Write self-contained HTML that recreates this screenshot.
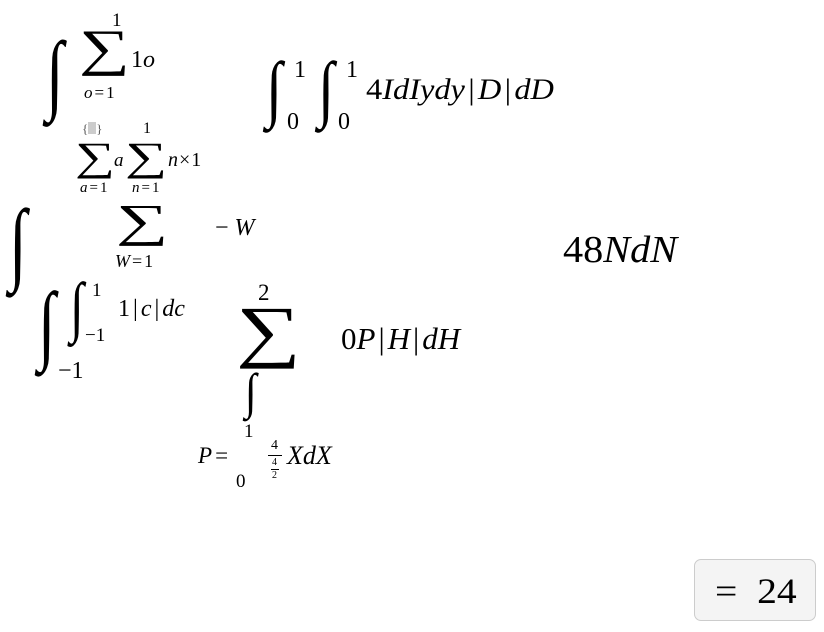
<!DOCTYPE html>
<html><head><meta charset="utf-8"><style>
body{margin:0;width:824px;height:632px;background:#fff;position:relative;overflow:hidden;font-family:"Liberation Serif",serif;color:#000}
.t{position:absolute;line-height:1;white-space:nowrap;transform-origin:0 0}
.i{font-style:italic}
.b{font-style:normal;margin:0 3px}
.e{margin:0 2px;font-style:normal}
</style></head><body>
<div>
<span class="t" style="left:112px;top:11px;font-size:19px">1</span>
<span class="t" style="left:46px;top:30px;font-size:89px;transform:scaleX(0.72)">∫</span>
<span class="t" style="left:79px;top:24px;font-size:51px;transform:scaleX(1.4)">∑</span>
<span class="t" style="left:131px;top:48px;font-size:24px">1<i>o</i></span>
<span class="t" style="left:84px;top:84px;font-size:17px"><i>o</i><span class="e">=</span>1</span>

<span class="t" style="left:266px;top:52px;font-size:74px;transform:scaleX(0.8)">∫</span>
<span class="t" style="left:294px;top:58px;font-size:24px">1</span>
<span class="t" style="left:287px;top:110px;font-size:24px">0</span>
<span class="t" style="left:318px;top:52px;font-size:74px;transform:scaleX(0.8)">∫</span>
<span class="t" style="left:346px;top:58px;font-size:24px">1</span>
<span class="t" style="left:338px;top:110px;font-size:24px">0</span>
<span class="t i" style="left:366px;top:75px;font-size:30px;transform:scaleX(1.08)"><span style="font-style:normal">4</span>IdIydy<span class="b">|</span>D<span class="b">|</span>dD</span>

<span class="t" style="left:82px;top:122px;font-size:13px;color:#555">{<span style="display:inline-block;width:8px;height:12px;background:#ccc;vertical-align:-1px"></span>}</span>
<span class="t" style="left:143px;top:121px;font-size:16px">1</span>
<span class="t" style="left:75px;top:137px;font-size:40px;transform:scaleX(1.4)">∑</span>
<span class="t i" style="left:114px;top:151px;font-size:19px">a</span>
<span class="t" style="left:125px;top:137px;font-size:40px;transform:scaleX(1.48)">∑</span>
<span class="t" style="left:168px;top:150px;font-size:20px"><i>n</i><span style="margin:0 1px">×</span>1</span>
<span class="t" style="left:80px;top:181px;font-size:15px"><i>a</i><span class="e">=</span>1</span>
<span class="t" style="left:132px;top:181px;font-size:15px"><i>n</i><span class="e">=</span>1</span>

<span class="t" style="left:9px;top:196px;font-size:92px;transform:scaleX(0.7)">∫</span>
<span class="t" style="left:116px;top:198px;font-size:46px;transform:scaleX(1.6)">∑</span>
<span class="t" style="left:115px;top:252px;font-size:18px"><i>W</i><span class="e">=</span>1</span>
<span class="t" style="left:215px;top:216px;font-size:24px">− <i>W</i></span>

<span class="t" style="left:563px;top:231px;font-size:38px;transform:scaleX(1.06)">48<i>NdN</i></span>

<span class="t" style="left:38px;top:281px;font-size:88px;transform:scaleX(0.72)">∫</span>
<span class="t" style="left:58px;top:359px;font-size:24px">−1</span>
<span class="t" style="left:70px;top:274px;font-size:67px;transform:scaleX(0.75)">∫</span>
<span class="t" style="left:92px;top:281px;font-size:19px">1</span>
<span class="t" style="left:85px;top:326px;font-size:19px">−1</span>
<span class="t" style="left:118px;top:297px;font-size:24px">1<span class="b">|</span><i>c</i><span class="b">|</span><i>dc</i></span>

<span class="t" style="left:258px;top:281px;font-size:23px">2</span>
<span class="t" style="left:236px;top:297px;font-size:69px;transform:scaleX(1.32)">∑</span>
<span class="t" style="left:245px;top:366px;font-size:50px;transform:scaleX(0.85)">∫</span>
<span class="t" style="left:244px;top:422px;font-size:19px">1</span>
<span class="t" style="left:198px;top:444px;font-size:23px"><i>P</i><span style="margin-left:3px">=</span></span>
<span class="t" style="left:236px;top:472px;font-size:19px">0</span>
<span class="t" style="left:271px;top:439px;font-size:14px">4</span>
<div class="t" style="left:268px;top:455px;width:14px;height:1px;background:#000"></div>
<span class="t" style="left:272px;top:458px;font-size:10px">4</span>
<div class="t" style="left:271px;top:469px;width:8px;height:1px;background:#000"></div>
<span class="t" style="left:272px;top:471px;font-size:10px">2</span>
<span class="t i" style="left:287px;top:443px;font-size:26px">XdX</span>
<span class="t" style="left:341px;top:323px;font-size:31px">0<i>P</i><span class="b">|</span><i>H</i><span class="b">|</span><i>dH</i></span>
</div>
<div style="position:absolute;left:694px;top:559px;width:122px;height:62px;border:1px solid #ccc;border-radius:7px;background:#f4f4f4;box-sizing:border-box">
<span class="t" style="left:20px;top:13px;font-size:36px;transform:scaleX(1.1)">=&nbsp;&nbsp;24</span>
</div>
</body></html>
